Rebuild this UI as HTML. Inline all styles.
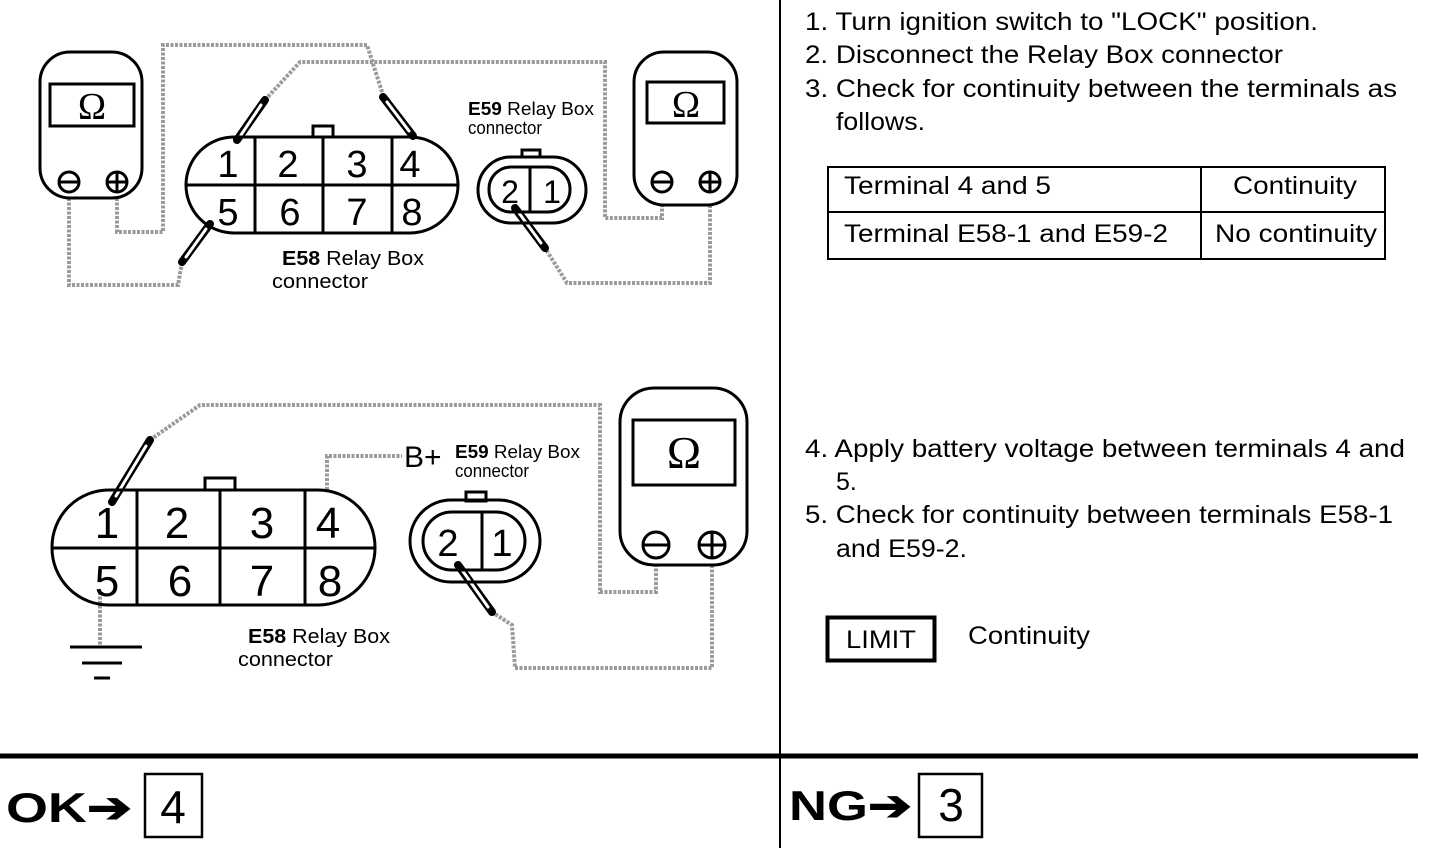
<!DOCTYPE html>
<html><head><meta charset="utf-8"><style>
html,body{margin:0;padding:0;background:#fff;}
svg{display:block;font-family:"Liberation Sans",Arial,sans-serif;}
</style></head><body>
<svg width="1440" height="848" viewBox="0 0 1440 848" xmlns="http://www.w3.org/2000/svg">
<g fill="none" stroke="#9a9a9a" stroke-width="4" stroke-dasharray="3 1.5">
  <polyline points="69,198 69,285 178,285 182,262"/>
  <polyline points="117,198 117,232 163,232 163,45 367,45 383,95"/>
  <polyline points="265,100 300,62 605,62 605,218 662,218 662,205"/>
  <polyline points="710,205 710,283 567,283 545,248"/>
  <polyline points="150,440 200,405 600,405 600,592 656,592 656,565"/>
  <polyline points="327,490 327,456 402,456"/>
  <polyline points="100,592 100,645"/>
  <polyline points="712,565 712,668 515,668 512,625 492,612"/>
</g>
<g stroke-linecap="round">
  <g stroke="#000" stroke-width="8">
    <line x1="182" y1="262" x2="210" y2="224"/>
    <line x1="383" y1="97" x2="413" y2="136"/>
    <line x1="237" y1="140" x2="265" y2="100"/>
    <line x1="545" y1="248" x2="515" y2="208"/>
    <line x1="112" y1="502" x2="150" y2="440"/>
    <line x1="492" y1="612" x2="458" y2="565"/>
  </g>
  <g stroke="#fff" stroke-width="3">
    <line x1="186" y1="257" x2="206" y2="229"/>
    <line x1="387" y1="102" x2="409" y2="131"/>
    <line x1="241" y1="135" x2="261" y2="105"/>
    <line x1="541" y1="243" x2="519" y2="213"/>
    <line x1="116" y1="496" x2="146" y2="446"/>
    <line x1="488" y1="607" x2="462" y2="570"/>
  </g>
</g>
<g fill="none" stroke="#000" stroke-width="3">
  <rect x="40" y="52" width="102" height="146" rx="30"/>
  <rect x="50" y="84" width="84" height="42"/>
  <circle cx="69" cy="182" r="10"/><line x1="59" y1="182" x2="79" y2="182"/>
  <circle cx="117" cy="182" r="10"/><line x1="107" y1="182" x2="127" y2="182"/><line x1="117" y1="172" x2="117" y2="192"/>
  <rect x="634" y="52" width="103" height="153" rx="30"/>
  <rect x="647" y="82" width="77" height="41"/>
  <circle cx="662" cy="182" r="10"/><line x1="652" y1="182" x2="672" y2="182"/>
  <circle cx="710" cy="182" r="10"/><line x1="700" y1="182" x2="720" y2="182"/><line x1="710" y1="172" x2="710" y2="192"/>
  <rect x="186" y="137" width="272" height="96" rx="48"/>
  <line x1="186" y1="185" x2="458" y2="185"/>
  <line x1="255" y1="137" x2="255" y2="233"/><line x1="323" y1="137" x2="323" y2="233"/><line x1="392" y1="137" x2="392" y2="233"/>
  <rect x="313" y="126" width="20" height="11"/>
  <rect x="478" y="157" width="108" height="66" rx="33"/>
  <rect x="489" y="167" width="81" height="45" rx="22"/>
  <line x1="530" y1="167" x2="530" y2="212"/>
  <rect x="522" y="150" width="18" height="7"/>
  <rect x="52" y="490" width="323" height="115" rx="57"/>
  <line x1="52" y1="548" x2="375" y2="548"/>
  <line x1="137" y1="490" x2="137" y2="605"/><line x1="220" y1="490" x2="220" y2="605"/><line x1="305" y1="490" x2="305" y2="605"/>
  <rect x="205" y="478" width="30" height="12"/>
  <rect x="410" y="500" width="130" height="82" rx="41"/>
  <rect x="423" y="512" width="102" height="58" rx="29"/>
  <line x1="482" y1="512" x2="482" y2="570"/>
  <rect x="466" y="492" width="20" height="9"/>
  <rect x="620" y="388" width="127" height="177" rx="34"/>
  <rect x="633" y="420" width="102" height="65"/>
  <circle cx="656" cy="545" r="13"/><line x1="643" y1="545" x2="669" y2="545"/>
  <circle cx="712" cy="545" r="13"/><line x1="699" y1="545" x2="725" y2="545"/><line x1="712" y1="532" x2="712" y2="558"/>
  <line x1="70" y1="647" x2="142" y2="647"/><line x1="82" y1="663" x2="122" y2="663"/><line x1="94" y1="678" x2="110" y2="678"/>
</g>
<g font-size="38" text-anchor="middle" font-family="Liberation Serif, serif">
  <text x="92" y="119">Ω</text><text x="686" y="117">Ω</text><text x="684" y="468" font-size="46">Ω</text>
</g>
<g font-size="38" text-anchor="middle">
  <text x="228" y="177">1</text><text x="288" y="177">2</text><text x="357" y="177">3</text><text x="410" y="177">4</text>
  <text x="228" y="225">5</text><text x="290" y="225">6</text><text x="357" y="225">7</text><text x="412" y="225">8</text>
  <text x="510" y="203" font-size="32">2</text><text x="552" y="203" font-size="32">1</text>
</g>
<g font-size="44" text-anchor="middle">
  <text x="107" y="538">1</text><text x="177" y="538">2</text><text x="262" y="538">3</text><text x="328" y="538">4</text>
  <text x="107" y="596">5</text><text x="180" y="596">6</text><text x="262" y="596">7</text><text x="330" y="596">8</text>
  <text x="448" y="556" font-size="38">2</text><text x="502" y="556" font-size="38">1</text>
</g>
<g font-size="20">
  <text x="282" y="265" textLength="142" lengthAdjust="spacingAndGlyphs"><tspan font-weight="bold">E58</tspan> Relay Box</text>
  <text x="272" y="288" textLength="96" lengthAdjust="spacingAndGlyphs">connector</text>
  <text x="468" y="115" font-size="18" textLength="126" lengthAdjust="spacingAndGlyphs"><tspan font-weight="bold">E59</tspan>  Relay  Box</text>
  <text x="468" y="134" font-size="18" textLength="74" lengthAdjust="spacingAndGlyphs">connector</text>
  <text x="248" y="643" textLength="142" lengthAdjust="spacingAndGlyphs"><tspan font-weight="bold">E58</tspan> Relay Box</text>
  <text x="238" y="666" textLength="95" lengthAdjust="spacingAndGlyphs">connector</text>
  <text x="455" y="458" font-size="18" textLength="125" lengthAdjust="spacingAndGlyphs"><tspan font-weight="bold">E59</tspan>  Relay  Box</text>
  <text x="455" y="477" font-size="18" textLength="74" lengthAdjust="spacingAndGlyphs">connector</text>
  <text x="404" y="467" font-size="30">B+</text>
</g>
<line x1="780" y1="0" x2="780" y2="848" stroke="#000" stroke-width="2"/>
<line x1="0" y1="756" x2="1418" y2="756" stroke="#000" stroke-width="5"/>
<g font-size="25">
  <text x="805" y="30" textLength="513" lengthAdjust="spacingAndGlyphs">1. Turn ignition switch to "LOCK" position.</text>
  <text x="805" y="63" textLength="478" lengthAdjust="spacingAndGlyphs">2. Disconnect the Relay Box connector</text>
  <text x="805" y="97" textLength="592" lengthAdjust="spacingAndGlyphs">3. Check for continuity between the terminals as</text>
  <text x="836" y="130" textLength="89" lengthAdjust="spacingAndGlyphs">follows.</text>
  <text x="805" y="457" textLength="600" lengthAdjust="spacingAndGlyphs">4. Apply battery voltage between terminals 4 and</text>
  <text x="836" y="490">5.</text>
  <text x="805" y="523" textLength="588" lengthAdjust="spacingAndGlyphs">5. Check for continuity between terminals E58-1</text>
  <text x="836" y="557" textLength="131" lengthAdjust="spacingAndGlyphs">and E59-2.</text>
  <text x="844" y="194" textLength="207" lengthAdjust="spacingAndGlyphs">Terminal 4 and 5</text>
  <text x="1233" y="194" textLength="124" lengthAdjust="spacingAndGlyphs">Continuity</text>
  <text x="844" y="242" textLength="324" lengthAdjust="spacingAndGlyphs">Terminal E58-1 and E59-2</text>
  <text x="1215" y="242" textLength="162" lengthAdjust="spacingAndGlyphs">No continuity</text>
  <text x="846" y="648" textLength="70" lengthAdjust="spacingAndGlyphs">LIMIT</text>
  <text x="968" y="644" textLength="122" lengthAdjust="spacingAndGlyphs">Continuity</text>
</g>
<g fill="none" stroke="#000" stroke-width="2">
  <rect x="828" y="167" width="557" height="92"/>
  <line x1="828" y1="212" x2="1385" y2="212"/>
  <line x1="1201" y1="167" x2="1201" y2="259"/>
  <rect x="827.5" y="617.5" width="107" height="43" stroke-width="4"/>
  <rect x="145" y="774" width="57" height="63" stroke-width="2.5"/>
  <rect x="919" y="774" width="63" height="63" stroke-width="2.5"/>
</g>
<g font-size="42" font-weight="bold">
  <text x="6" y="822" textLength="126" lengthAdjust="spacingAndGlyphs">OK➔</text>
  <text x="789" y="820" textLength="123" lengthAdjust="spacingAndGlyphs">NG➔</text>
</g>
<g font-size="46" text-anchor="middle">
  <text x="173" y="823">4</text><text x="951" y="821">3</text>
</g>
</svg>
</body></html>
